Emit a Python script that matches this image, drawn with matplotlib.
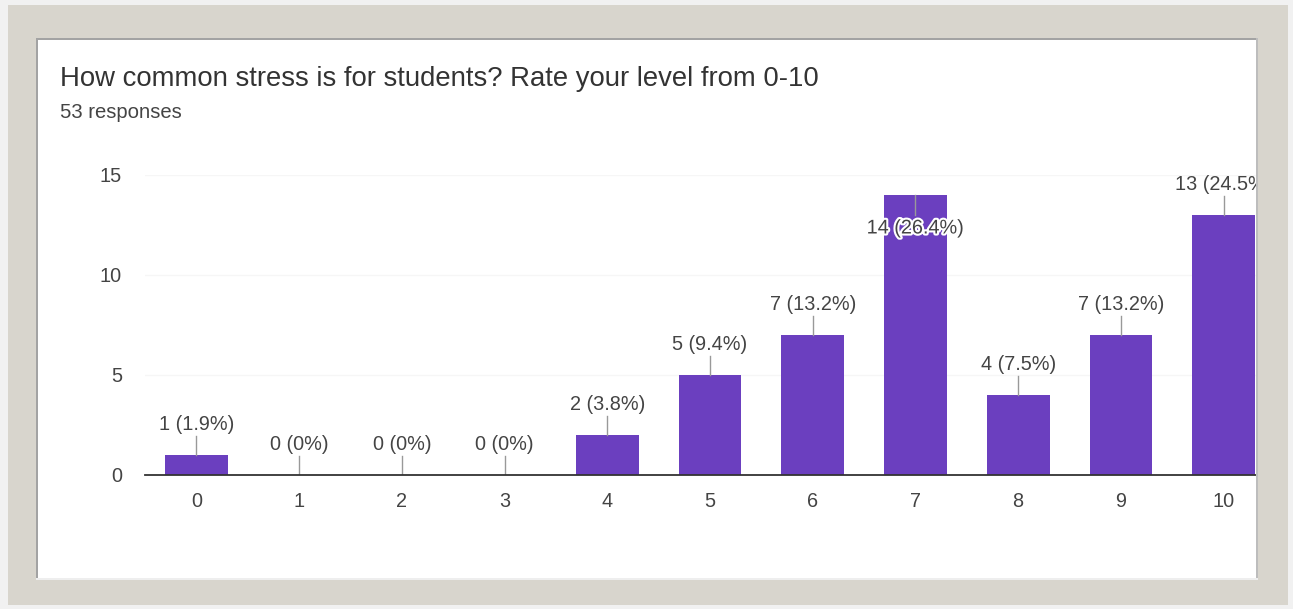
import matplotlib.pyplot as plt
import matplotlib.patheffects as pe
from matplotlib.patches import Rectangle

# Survey results: stress level rating 0-10
levels = ["0", "1", "2", "3", "4", "5", "6", "7", "8", "9", "10"]
counts = [1, 0, 0, 0, 2, 5, 7, 14, 4, 7, 13]
percents = ["1.9%", "0%", "0%", "0%", "3.8%", "9.4%", "13.2%", "26.4%", "7.5%", "13.2%", "24.5%"]
yticks = [0, 5, 10, 15]

title = "How common stress is for students? Rate your level from 0-10"
subtitle = "53 responses"

W, H = 1293, 609
BAR = "#6b3fbf"
TXT = "#444444"
FS = 14.3

plt.rcParams["font.family"] = ["Liberation Sans", "DejaVu Sans"]

fig = plt.figure(figsize=(W / 100, H / 100), dpi=100)
fig.patch.set_facecolor("#f1f1f1")


def box(x0, y0, x1, y1):
    # pixel box (top-left origin) -> figure fraction rect
    return (x0 / W, 1 - y1 / H), (x1 - x0) / W, (y1 - y0) / H


def add_rect(x0, y0, x1, y1, color, z, **kw):
    xy, w, h = box(x0, y0, x1, y1)
    r = Rectangle(xy, w, h, transform=fig.transFigure, facecolor=color,
                  edgecolor="none", zorder=z, **kw)
    fig.add_artist(r)
    return r


# white card behind the chart
add_rect(8, 5, 1288, 605, "#d8d5cd", -2)
add_rect(38, 40, 1258, 578, "white", -1)

# axes placed so that each category step is ~103 px
ax = fig.add_axes([145 / W, (H - 475) / H, 1130 / W, 300 / H])
ax.set_facecolor("none")
x = list(range(len(levels)))
ax.bar(x, counts, width=0.61, color=BAR, zorder=2)
ax.set_xlim(-0.5, 10.5)
ax.set_ylim(0, 15)

ax.set_xticks(x)
ax.set_xticklabels(levels)
ax.set_yticks(yticks)
ax.tick_params(axis="both", length=0, labelsize=FS, labelcolor=TXT)
ax.tick_params(axis="x", pad=12)
ax.tick_params(axis="y", pad=16.5)
for s in ["top", "right", "left"]:
    ax.spines[s].set_visible(False)
ax.spines["bottom"].set_color("#333333")
ax.spines["bottom"].set_linewidth(1.3)
ax.spines["bottom"].set_zorder(3)
ax.grid(axis="y", color="#f6f6f6", linewidth=1)
ax.set_axisbelow(True)

ymax = 15
for xi, c, p in zip(x, counts, percents):
    label = f"{c} ({p})"
    if c + 1.5 > ymax:
        # no room above: put the label inside the bar
        ax.plot([xi, xi], [c, c - 1.0], color="#999999", lw=1, zorder=3)
        ax.text(xi, c - 1.65, label, ha="center", va="center", fontsize=FS,
                color=TXT, zorder=4,
                path_effects=[pe.withStroke(linewidth=3, foreground="white")])
    else:
        ax.plot([xi, xi], [c, c + 0.95], color="#999999", lw=1, zorder=3)
        ax.text(xi, c + 1.55, label, ha="center", va="center", fontsize=FS,
                color=TXT, zorder=4)

fig.text(60 / W, 1 - 78.5 / H, title, fontsize=19.8, color="#333333",
         ha="left", va="center")
fig.text(60 / W, 1 - 112.5 / H, subtitle, fontsize=14.6, color="#444444",
         ha="left", va="center")

# picture frame drawn over the chart so the right edge is cut off
frame = "#d8d5cd"
add_rect(8, 5, 1288, 38, frame, 5)
add_rect(8, 578, 1288, 605, frame, 5)
add_rect(8, 5, 36, 605, frame, 5)
add_rect(1258, 5, 1288, 605, frame, 5)
# inner bevel lines
add_rect(36, 38, 1258, 40, "#a3a3a3", 6)
add_rect(36, 38, 38, 578, "#a3a3a3", 6)
add_rect(1256, 38, 1258, 578, "#bdbdbd", 6)
add_rect(36, 578, 1258, 580, "#eeeeee", 6)

fig.savefig("out.png", dpi=100)
